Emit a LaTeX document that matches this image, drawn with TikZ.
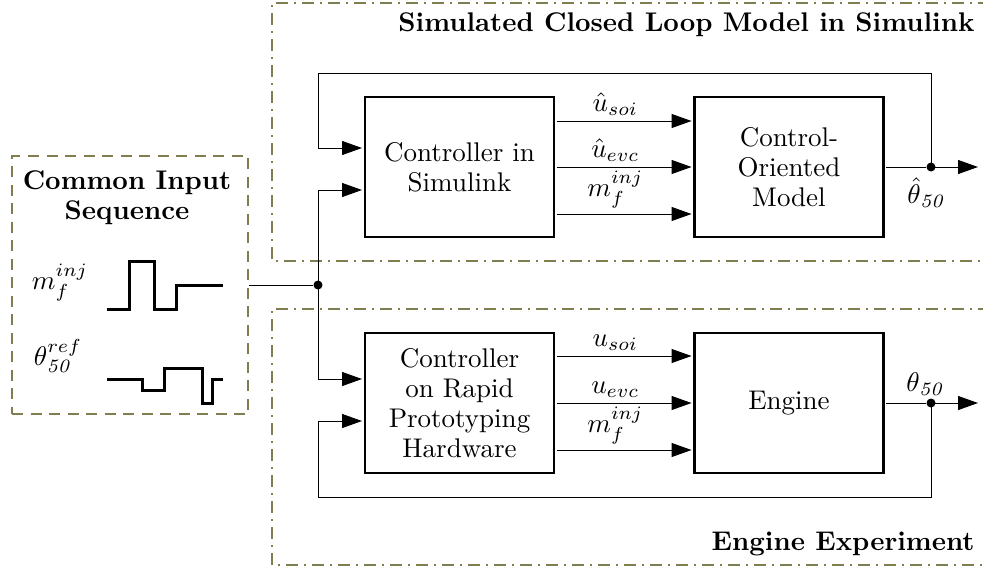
\documentclass[tikz,border=0pt]{standalone}
\usetikzlibrary{arrows.meta}
\definecolor{olivegrey}{RGB}{128,126,80}
\begin{document}
\begin{tikzpicture}[x=1pt,y=-1pt,
  txt/.style={scale=2.7, font=\fontsize{10}{11.1}\selectfont},
  boldtxt/.style={scale=2.7, font=\fontsize{10}{11.1}\selectfont\bfseries},
  block/.style={txt, draw, line width=2.2pt, minimum width=70pt, minimum height=51.85pt, align=center, inner sep=0pt},
  wire/.style={line width=1pt},
  sig/.style={wire, -{Triangle[length=20pt,width=14pt]}},
  dot/.style={circle, fill, inner sep=0pt, minimum size=9pt},
  lab/.style={txt, inner sep=1.5pt, xshift=-3.3pt},
  region/.style={draw=olivegrey, line width=1.5pt, dash pattern=on 12pt off 6pt on 2pt off 6pt},
  framebox/.style={draw=olivegrey, line width=1.5pt, dash pattern=on 11pt off 7.5pt},
  wave/.style={line width=3pt}
]
\useasboundingbox (0,0) rectangle (983,568);

% dash-dot frames of the two set-ups
\draw[region] (990,3) -- (272,3) -- (272,261) -- (990,261);
\draw[region] (990,309) -- (272,309) -- (272,565) -- (990,565);
\node[boldtxt, anchor=east, inner sep=0pt] (t1) at (975,25) {Simulated Closed Loop Model in Simulink};
\node[boldtxt, anchor=east, inner sep=0pt] (t2) at (975,544) {Engine Experiment};

% common input sequence
\node[framebox, minimum width=236pt, minimum height=258pt] (inp) at (130,285) {};
\node[boldtxt, align=center] (inpt) at (127,198) {Common Input\\Sequence};
\node[txt] (lm) at (60,283) {$m_f^{inj}$};
\node[txt] (lt) at (58,356) {$\theta_{\mathit{50}}^{ref}$};
\draw[wave] (107,309) -- (129,309) -- (129,261) -- (154,261) -- (154,309) -- (176,309) -- (176,285) -- (223,285);
\draw[wave] (107,379) -- (142,379) -- (142,390) -- (164,390) -- (164,368) -- (202,368) -- (202,403) -- (212,403) -- (212,379) -- (223,379);

% blocks
\node[block] (cs) at (459.5,167) {Controller in\\Simulink};
\node[block] (cm) at (789,167) {Control-\\Oriented\\Model};
\node[block] (ce) at (459.5,403) {Controller\\on Rapid\\Prototyping\\Hardware};
\node[block] (en) at (789,403) {Engine};

% controller outputs
\draw[sig] ([yshift=46pt]cs.east) -- node[lab, above] {$\hat u_{soi}$} ([yshift=46pt]cm.west);
\draw[sig] (cs.east) -- node[lab, above] {$\hat u_{evc}$} (cm.west);
\draw[sig] ([yshift=-47pt]cs.east) -- node[lab, above] {$m_f^{inj}$} ([yshift=-47pt]cm.west);
\draw[sig] ([yshift=47pt]ce.east) -- node[lab, above] {$u_{soi}$} ([yshift=47pt]en.west);
\draw[sig] (ce.east) -- node[lab, above] {$u_{evc}$} (en.west);
\draw[sig] ([yshift=-47pt]ce.east) -- node[lab, above] {$m_f^{inj}$} ([yshift=-47pt]en.west);

% input distribution
\node[dot] (j) at (318,285) {};
\draw[wire] (inp.east) -- (j);
\draw[sig] (j.center) |- ([yshift=-23pt]cs.west);
\draw[sig] (j.center) |- ([yshift=24pt]ce.west);

% outputs and feedback
\node[dot] (d1) at (931,167) {};
\node[dot] (d2) at (931,403) {};
\coordinate (o1) at (978,167);
\coordinate (o2) at (978,403);
\coordinate (fbT) at (318,73);
\coordinate (fbB) at (318,497);
\draw[wire] (cm.east) -- (d1);
\draw[sig] (d1.center) -- (o1);
\draw[sig] (d1.center) |- (fbT) |- ([yshift=19pt]cs.west);
\draw[wire] (en.east) -- (d2);
\draw[sig] (d2.center) -- (o2);
\draw[sig] (d2.center) |- (fbB) |- ([yshift=-18pt]ce.west);
\node[txt] (l1) at (927,193) {$\hat\theta_{\mathit{50}}$};
\node[txt] (l2) at (926,384) {$\theta_{\mathit{50}}$};
\end{tikzpicture}
\end{document}
